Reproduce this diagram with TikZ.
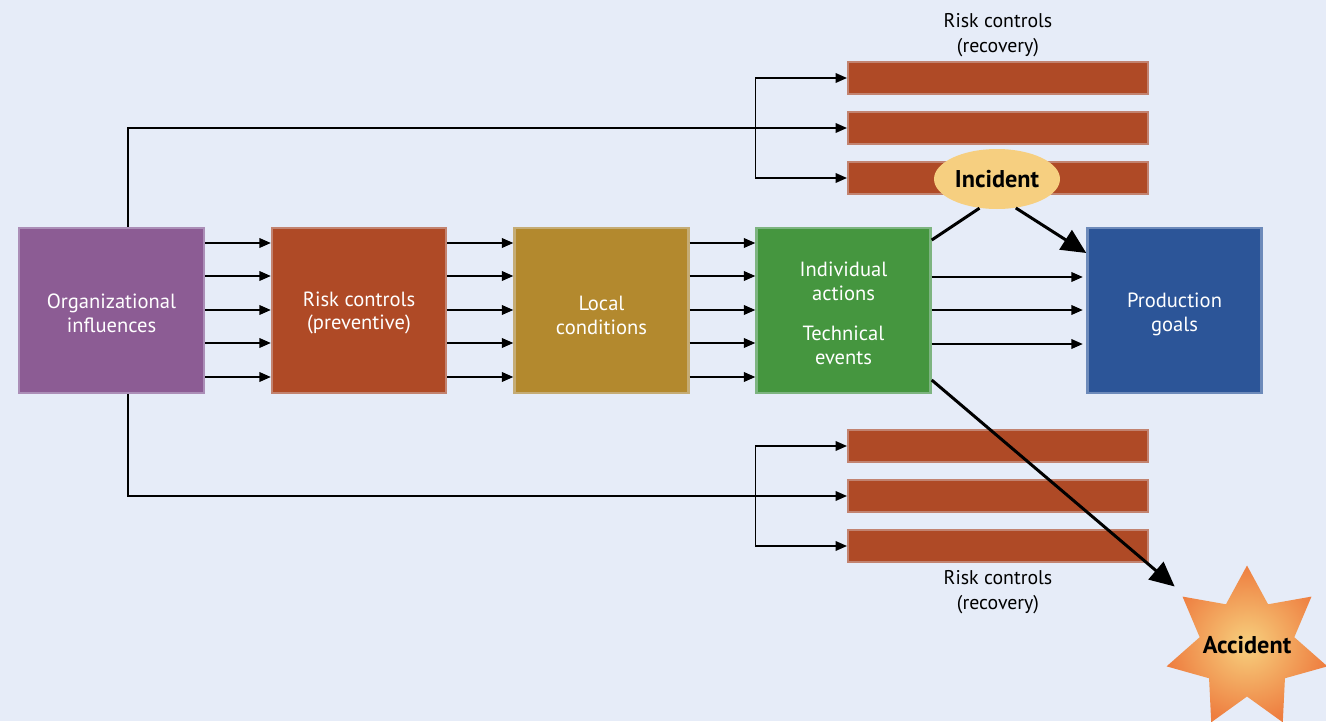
\documentclass[tikz,border=0pt]{standalone}
\usepackage{fontspec}
\setmainfont{PT Sans}
\usetikzlibrary{shapes.geometric,arrows.meta}
\definecolor{bg}{HTML}{E6ECF8}
\definecolor{cpurple}{HTML}{8C5C94}
\definecolor{crust}{HTML}{AF4A26}
\definecolor{cgold}{HTML}{B3892E}
\definecolor{cgreen}{HTML}{45963F}
\definecolor{cblue}{HTML}{2C5598}
\definecolor{cinc}{HTML}{F6CF80}
\definecolor{cstarin}{HTML}{F7D07E}
\definecolor{cstarout}{HTML}{EE7E40}
\tikzset{
  boxfont/.style={font=\fontsize{11.7}{13.6}\selectfont},
  box/.style={fill=#1, draw=#1!65!bg, line width=1.4pt, minimum width=3.48cm, minimum height=3.3cm,
    inner sep=0pt, align=center, text=white, boxfont},
  boxtext/.style={text=white, align=center, boxfont, inner sep=0pt},
  bar/.style={fill=crust, draw=crust!65!bg, line width=1.2pt, minimum width=6cm, minimum height=0.64cm, inner sep=0pt},
  arr/.style={line width=0.85pt, -{Triangle[length=6.5pt,width=5.5pt]}},
  plain/.style={line width=0.85pt},
  bigarr/.style={line width=1.7pt, -{Triangle[length=14pt,width=13pt]}},
  lbl/.style={align=center, font=\fontsize{11.3}{14}\selectfont, inner sep=0pt},
  bold/.style={font=\bfseries\fontsize{13.8}{16}\selectfont, inner sep=0pt},
}
\begin{document}
\begin{tikzpicture}[x=0.02cm,y=-0.02cm]
\fill[bg] (0,0) rectangle (1326,721);
\useasboundingbox (0,0) rectangle (1326,721);
\clip (0,0) rectangle (1326,721);

\node[box=cpurple, minimum width=3.7cm] (org) at (111.5,310.5) {};
\node[boxtext] (orgt) at (111.5,313) {Organizational\\influences};
\node[box=crust] (risk) at (359,310.5) {};
\node[boxtext] (riskt) at (359,313) {Risk controls\\(preventive)};
\node[box=cgold] (loc) at (601.5,310.5) {};
\node[boxtext] (loct) at (601.5,315) {Local\\conditions};
\node[box=cgreen] (ind) at (843.5,310.5) {};
\node[boxtext] (indt1) at (843.5,281) {Individual\\actions};
\node[boxtext] (indt2) at (843.5,345) {Technical\\events};
\node[box=cblue] (prod) at (1174.5,310.5) {};
\node[boxtext] (prodt) at (1174.5,314) {Production\\goals};

% bars
\node[bar] (t1) at (998,78) {};
\node[bar] (t2) at (998,128) {};
\node[bar] (t3) at (998,178) {};
\node[bar] (b1) at (998,446) {};
\node[bar] (b2) at (998,496) {};
\node[bar] (b3) at (998,546) {};

\node[lbl] (ltop) at (998,35) {Risk controls\\(recovery)};
\node[lbl] (lbot) at (998,592) {Risk controls\\(recovery)};

% arrows between boxes
\foreach \y in {243,276,310,343,377}{
  \draw[arr] (org.east |- 0,\y) -- (risk.west |- 0,\y);
  \draw[arr] (risk.east |- 0,\y) -- (loc.west |- 0,\y);
  \draw[arr] (loc.east |- 0,\y) -- (ind.west |- 0,\y);
}
\foreach \y in {277,310,344}{
  \draw[arr] (ind.east |- 0,\y) -- ([xshift=-2pt]prod.west |- 0,\y);
}

% top recovery
\draw[arr] ([xshift=0.33cm]org.north) |- (t2.west);
\draw[plain] (t1.west -| ind.west) -- (t3.west -| ind.west);
\draw[arr] (t1.west -| ind.west) -- (t1.west);
\draw[arr] (t3.west -| ind.west) -- (t3.west);
% bottom recovery
\draw[arr] ([xshift=0.33cm]org.south) |- (b2.west);
\draw[plain] (b1.west -| ind.west) -- (b3.west -| ind.west);
\draw[arr] (b1.west -| ind.west) -- (b1.west);
\draw[arr] (b3.west -| ind.west) -- (b3.west);

% incident
\node[ellipse, fill=cinc, minimum width=2.52cm, minimum height=1.2cm, bold] (inc) at (997,179) {Incident};
\draw[line width=1.7pt] (ind.east |- 0,240) -- (inc.239);
\draw[bigarr] (inc.303) -- (prod.west |- 0,253);

% accident
\node[star, star points=7, star point ratio=1.7, minimum size=3.3cm, inner sep=0pt,
  shading=radial, inner color=cstarin, outer color=cstarout] (acc) at (1247,648) {};
\node[bold] (acct) at (1247,645) {Accident};
\draw[bigarr, shorten >=1.9cm] (ind.east |- 0,380) -- (acc.center);
\end{tikzpicture}
\end{document}
